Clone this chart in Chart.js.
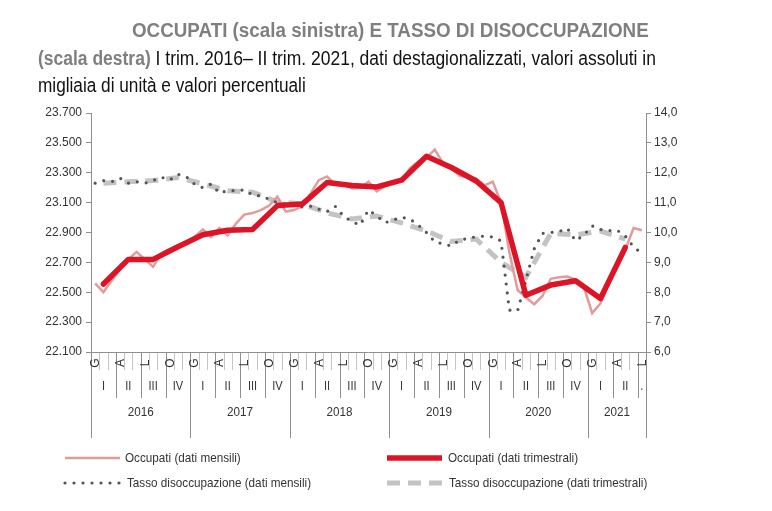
<!DOCTYPE html>
<html lang="it">
<head>
<meta charset="utf-8">
<script src="https://cdn.jsdelivr.net/npm/chart.js@4.4.1/dist/chart.umd.min.js"></script>
<style>
  html, body { margin: 0; padding: 0; background: #fff; }
  #wrap { position: relative; width: 772px; height: 511px; overflow: hidden; }
  #chart { position: absolute; left: 0; top: 0; }
  .tt { position: absolute; white-space: nowrap; font-family: 'Liberation Sans Narrow', 'Arial Narrow', 'Liberation Sans', sans-serif; font-size: 20px; color: #111; transform-origin: 0 0; }
  .grey { color: #7f7f7f; font-weight: bold; }
</style>
</head>
<body>
<div id="wrap">
  <canvas id="chart" width="772" height="511"></canvas>
  <div class="tt grey" style="left:132px; top:19px; transform:scaleX(0.94);">OCCUPATI (scala sinistra) E TASSO DI DISOCCUPAZIONE</div>
  <div class="tt" style="left:38px; top:47px; transform:scaleX(0.874);"><span class="grey">(scala destra)</span> I trim. 2016– II trim. 2021, dati destagionalizzati, valori assoluti in</div>
  <div class="tt" style="left:38px; top:74px; transform:scaleX(0.86);">migliaia di unità e valori percentuali</div>
</div>
<script>
const anni = ['2016', '2017', '2018', '2019', '2020', '2021'];
const mesiPerAnno = [12, 12, 12, 12, 12, 7];
const sigleTrimestre = ['G', 'A', 'L', 'O'];
const trimestri = ['I', 'II', 'III', 'IV'];

// occupati, dati mensili (migliaia)
const occupatiMensili = [
  22560, 22500, 22580, 22650, 22720, 22770, 22720, 22670, 22760, 22790, 22810, 22830,
  22870, 22920, 22870, 22930, 22880, 22960, 23020, 23030, 23050, 23080, 23140, 23040,
  23050, 23075, 23160, 23250, 23275, 23220, 23220, 23195, 23200, 23240, 23175, 23210,
  23230, 23250, 23330, 23375, 23400, 23455, 23365, 23330, 23280, 23270, 23260, 23215,
  23240, 23100, 22770, 22515, 22465, 22420, 22475, 22590, 22600, 22605, 22585, 22535,
  22360, 22425, 22555, 22670, 22785, 22930, 22915
];
// occupati, dati trimestrali
const occupatiTrimestrali = [
  22555, 22720, 22720, 22805,
  22885, 22915, 22920, 23080,
  23090, 23235, 23215, 23205,
  23250, 23410, 23335, 23245,
  23100, 22480, 22548, 22577,
  22458, 22800
];
// tasso di disoccupazione, dati mensili (%)
const tassoMensile = [
  11.65, 11.74, 11.70, 11.82, 11.65, 11.70, 11.65, 11.74, 11.85, 11.76, 11.95, 11.87,
  11.62, 11.50, 11.62, 11.32, 11.40, 11.40, 11.43, 11.26, 11.22, 11.12, 11.00, 10.95,
  10.92, 10.85, 10.88, 10.78, 10.70, 10.87, 10.55, 10.36, 10.25, 10.76, 10.55, 10.33,
  10.42, 10.51, 10.45, 10.25, 10.00, 9.69, 9.62, 9.55, 9.75, 9.80, 9.86, 9.88,
  9.85, 9.72, 7.40, 7.38, 8.40, 9.45, 9.97, 10.00, 10.03, 10.14, 9.72, 9.92,
  10.22, 10.10, 10.06, 10.08, 9.88, 9.52, 9.30
];
// tasso di disoccupazione, dati trimestrali
const tassoTrimestrale = [
  11.65, 11.70, 11.74, 11.84,
  11.63, 11.40, 11.35, 11.02,
  10.96, 10.66, 10.45, 10.55,
  10.32, 10.05, 9.70, 9.78,
  9.00, 8.50, 9.97, 9.92,
  10.05, 9.78
];

const FONT = "'Liberation Sans Narrow', 'Arial Narrow', 'Liberation Sans', sans-serif";

// one category per month, quarterly values sit on the middle month
const mesi = [];
anni.forEach((a, k) => { for (let m = 0; m < mesiPerAnno[k]; m++) mesi.push(a + '-' + (m + 1)); });
const suMesi = q => mesi.map((_, i) => (i % 3 === 1 && q[(i - 1) / 3] !== undefined) ? q[(i - 1) / 3] : null);

// narrow text: squeeze horizontally around the anchor
function testo(c, t, x, y, sx) {
  c.save();
  c.translate(x, y);
  c.scale(sx, 1);
  c.fillText(t, 0, 0);
  c.restore();
}

const axisPlugin = {
  id: 'assi',
  afterDraw(chart) {
    const c = chart.ctx, area = chart.chartArea;
    const n = mesi.length, w = (area.right - area.left) / n, y0 = area.bottom;
    const bx = i => area.left + i * w;
    c.save();
    // month / quarter / year separators
    for (let i = 0; i <= n; i++) {
      let len = 18, col = '#c4c4c4';
      if (i % 3 === 0) { len = 46; col = '#8f8f8f'; }
      if (i % 12 === 0 || i === n) { len = 86; col = '#8f8f8f'; }
      c.strokeStyle = col; c.lineWidth = 1;
      c.beginPath(); c.moveTo(Math.round(bx(i)) + 0.5, y0); c.lineTo(Math.round(bx(i)) + 0.5, y0 + len); c.stroke();
    }
    c.strokeStyle = '#8f8f8f';
    c.beginPath(); c.moveTo(area.left, y0 + 0.5); c.lineTo(area.right, y0 + 0.5); c.stroke();
    c.fillStyle = '#333';
    c.textAlign = 'center'; c.textBaseline = 'middle';
    // G A L O
    c.font = '12px ' + FONT;
    for (let i = 0; i < n; i += 3) {
      c.save();
      c.translate(bx(i) + w / 2 + 0.5, y0 + 11);
      c.rotate(-Math.PI / 2);
      c.fillText(sigleTrimestre[(i % 12) / 3], 0, 0);
      c.restore();
    }
    // quarters
    c.font = '13px ' + FONT;
    for (let i = 0; i < n; i += 3) {
      const k = Math.min(3, n - i);
      const label = k === 3 ? trimestri[(i % 12) / 3] : '.';
      testo(c, label, bx(i) + k * w / 2, y0 + 34, 0.85);
    }
    // years
    let s = 0;
    anni.forEach((a, k) => {
      testo(c, a, bx(s) + mesiPerAnno[k] * w / 2, y0 + 60, 0.9);
      s += mesiPerAnno[k];
    });
    // legend
    const items = [
      { x: 65, y: 458, t: 'Occupati (dati mensili)', col: '#e39a9a', lw: 2.5, dash: [], tx: 125 },
      { x: 387, y: 458, t: 'Occupati (dati trimestrali)', col: '#dc1426', lw: 5.5, dash: [], tx: 448 },
      { x: 65, y: 483, t: 'Tasso disoccupazione (dati mensili)', col: '#555', lw: 3.2, dash: [0, 9], tx: 127 },
      { x: 387, y: 483, t: 'Tasso disoccupazione (dati trimestrali)', col: '#c3c3c3', lw: 5, dash: [13, 8], tx: 449 }
    ];
    c.font = '13px ' + FONT; c.textAlign = 'left';
    items.forEach(it => {
      c.strokeStyle = it.col; c.lineWidth = it.lw; c.setLineDash(it.dash);
      c.lineCap = it.dash.length && it.dash[0] === 0 ? 'round' : 'butt';
      c.beginPath(); c.moveTo(it.x, it.y); c.lineTo(it.x + 55, it.y); c.stroke();
      c.setLineDash([]);
      c.fillStyle = '#333';
      testo(c, it.t, it.tx, it.y, 0.9);
    });
    c.restore();
  }
};

new Chart(document.getElementById('chart'), {
  type: 'line',
  data: {
    labels: mesi,
    datasets: [
      {
        label: 'Occupati (dati trimestrali)',
        data: suMesi(occupatiTrimestrali),
        yAxisID: 'y', borderColor: '#dc1426', borderWidth: 5.5,
        spanGaps: true, pointRadius: 0, tension: 0, order: 0,
        borderJoinStyle: 'round', borderCapStyle: 'round'
      },
      {
        label: 'Tasso disoccupazione (dati mensili)',
        data: tassoMensile,
        yAxisID: 'y1', borderColor: '#555', borderWidth: 3.2,
        borderDash: [0, 9], borderCapStyle: 'round',
        pointRadius: 0, tension: 0, order: 1
      },
      {
        label: 'Occupati (dati mensili)',
        data: occupatiMensili,
        yAxisID: 'y', borderColor: '#e39a9a', borderWidth: 2.5,
        pointRadius: 0, tension: 0, order: 2
      },
      {
        label: 'Tasso disoccupazione (dati trimestrali)',
        data: suMesi(tassoTrimestrale),
        yAxisID: 'y1', borderColor: '#c3c3c3', borderWidth: 5,
        borderDash: [13, 8], spanGaps: true, pointRadius: 0, tension: 0, order: 3
      }
    ]
  },
  options: {
    responsive: false,
    animation: false,
    layout: { padding: { top: 113, bottom: 159, left: 0, right: 0 } },
    plugins: { legend: { display: false }, tooltip: { enabled: false } },
    scales: {
      x: { display: false, offset: true },
      y: {
        position: 'left', min: 22100, max: 23700,
        afterFit(s) { s.width = 91; },
        border: { color: '#8f8f8f' },
        grid: { drawOnChartArea: false, tickLength: 5, color: '#8f8f8f' },
        ticks: {
          stepSize: 200, padding: 4, color: '#333', font: { family: FONT, size: 12 },
          callback: v => String(v).replace(/(\d{2})(\d{3})$/, '$1.$2')
        }
      },
      y1: {
        position: 'right', min: 6, max: 14,
        afterFit(s) { s.width = 126; },
        border: { color: '#8f8f8f' },
        grid: { drawOnChartArea: false, tickLength: 5, color: '#8f8f8f' },
        ticks: {
          stepSize: 1, padding: 3, color: '#333', font: { family: FONT, size: 12 },
          callback: v => v.toFixed(1).replace('.', ',')
        }
      }
    }
  },
  plugins: [axisPlugin]
});
</script>
</body>
</html>
